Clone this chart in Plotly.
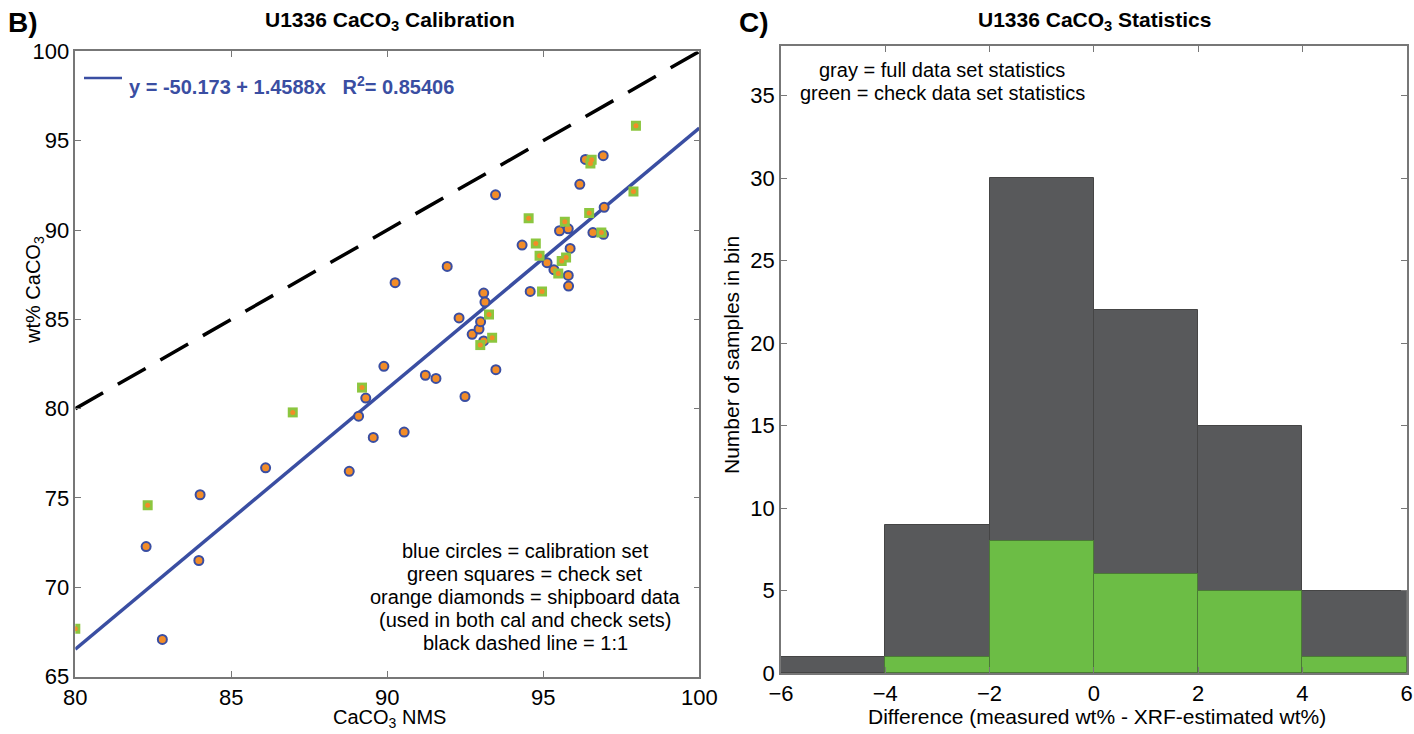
import plotly.graph_objects as go

# ---------------- data ----------------
# calibration set (blue circles)
cal_x = [82.27, 82.79, 84.00, 83.96, 86.10, 88.78, 89.08, 89.31, 89.55, 89.89,
         90.25, 90.54, 91.22, 91.56, 91.92, 92.30, 92.49, 92.72, 92.94, 92.99,
         93.09, 93.13, 93.09, 93.47, 93.48, 94.32, 94.58, 95.12, 95.34, 95.52,
         95.80, 95.86, 95.80, 95.81, 96.17, 96.35, 96.92, 96.95, 96.59, 96.93]
cal_y = [72.28, 67.08, 75.18, 71.50, 76.69, 76.49, 79.58, 80.59, 78.39, 82.37,
         87.05, 78.69, 81.87, 81.69, 87.96, 85.08, 80.68, 84.16, 84.46, 84.87,
         86.47, 85.97, 83.79, 91.97, 82.18, 89.16, 86.56, 88.17, 87.78, 89.96,
         90.07, 88.97, 87.46, 86.86, 92.56, 93.95, 94.16, 91.27, 89.86, 89.76]
# check set (green squares)
chk_x = [80.00, 82.32, 86.97, 89.19, 92.98, 93.26, 93.36, 94.53, 94.76, 94.88,
         94.96, 95.48, 95.59, 95.73, 95.69, 96.47, 96.55, 96.51, 96.86, 97.89, 97.97]
chk_y = [67.68, 74.59, 79.79, 81.18, 83.56, 85.27, 83.97, 90.66, 89.25, 88.56,
         86.56, 87.56, 88.27, 88.46, 90.46, 90.96, 93.93, 93.73, 89.86, 92.16, 95.84]
# regression
intercept = -50.173
slope = 1.4588
r2 = 0.85406
fit_x = [80, 100]
one_to_one = [80, 100]

# histogram
bin_centers = [-5, -3, -1, 1, 3, 5]
full_counts = [1, 9, 30, 22, 15, 5]
check_counts = [0, 1, 8, 6, 5, 1]

notes_left = ["blue circles = calibration set", "green squares = check set",
              "orange diamonds = shipboard data", "(used in both cal and check sets)",
              "black dashed line = 1:1"]
notes_right = ["gray = full data set statistics", "green = check data set statistics"]

# ---------------- styles ----------------
FONT = "Liberation Sans, Arial, sans-serif"
BLUE = "#3a4ea2"
ORANGE = "#f28c28"
GREEN = "#8cc63f"
GRAY = "#58595b"
HGREEN = "#6cbd45"
AX = "#777777"

fig = go.Figure()

fig.add_trace(go.Scatter(x=one_to_one, y=one_to_one, mode="lines",
                         line=dict(color="black", width=3.5, dash="32px,17px"),
                         xaxis="x", yaxis="y", showlegend=False, hoverinfo="skip"))
fit_y = [intercept + slope * v for v in fit_x]
fig.add_trace(go.Scatter(x=fit_x, y=fit_y, mode="lines",
                         line=dict(color=BLUE, width=3.5),
                         xaxis="x", yaxis="y", showlegend=False, hoverinfo="skip"))
fig.add_trace(go.Scatter(x=cal_x, y=cal_y, mode="markers",
                         marker=dict(symbol="circle", size=9, color=ORANGE,
                                     line=dict(color=BLUE, width=2)),
                         xaxis="x", yaxis="y", showlegend=False))
fig.add_trace(go.Scatter(x=chk_x, y=chk_y, mode="markers",
                         marker=dict(symbol="square", size=10, color=GREEN,
                                     line=dict(width=0)),
                         xaxis="x", yaxis="y", showlegend=False))
fig.add_trace(go.Scatter(x=chk_x, y=chk_y, mode="markers",
                         marker=dict(symbol="circle", size=5, color=ORANGE,
                                     line=dict(width=0)),
                         xaxis="x", yaxis="y", showlegend=False))

fig.add_trace(go.Bar(x=bin_centers, y=full_counts, width=2,
                     marker=dict(color=GRAY, line=dict(color="#454545", width=1)),
                     xaxis="x2", yaxis="y2", showlegend=False))
fig.add_trace(go.Bar(x=bin_centers, y=check_counts, width=2,
                     marker=dict(color=HGREEN,
                                 line=dict(color="#4a7a35",
                                           width=[0 if c == 0 else 1 for c in check_counts])),
                     xaxis="x2", yaxis="y2", showlegend=False))

W, H = 1414, 734
def px(x):
    return x / W
def py(y):
    return 1 - y / H

axis_common = dict(showgrid=False, zeroline=False, showline=True, linecolor=AX,
                   linewidth=1.5, mirror="ticks", ticks="inside", ticklen=6,
                   tickcolor=AX, automargin=False,
                   tickfont=dict(family=FONT, size=22, color="black"))

fig.update_layout(
    width=W, height=H,
    margin=dict(l=0, r=0, t=0, b=0, autoexpand=False),
    paper_bgcolor="white", plot_bgcolor="white",
    barmode="overlay", bargap=0,
    font=dict(family=FONT, color="black"),
    xaxis=dict(domain=[px(75.3), px(699.3)], range=[80, 100],
               tickvals=[80, 85, 90, 95, 100], anchor="y", **axis_common),
    yaxis=dict(domain=[py(676.6), py(51.4)], range=[65, 100],
               tickvals=[65, 70, 75, 80, 85, 90, 95, 100], anchor="x", **axis_common),
    xaxis2=dict(domain=[px(781), px(1406.7)], range=[-6, 6],
                tickvals=[-6, -4, -2, 0, 2, 4, 6], anchor="y2", **axis_common),
    yaxis2=dict(domain=[py(673), py(46)], range=[0, 38],
                tickvals=[0, 5, 10, 15, 20, 25, 30, 35], anchor="x2", **axis_common),
)

ann = []
def add_text(x, y, text, size=21, bold=False, color="black", xanchor="center",
             yanchor="middle", angle=0):
    if bold:
        text = "<b>" + text + "</b>"
    ann.append(dict(x=px(x), y=py(y), xref="paper", yref="paper", text=text,
                    showarrow=False, xanchor=xanchor, yanchor=yanchor,
                    textangle=angle,
                    font=dict(family=FONT, size=size, color=color)))

add_text(6, 23, "B)", size=28, bold=True, xanchor="left")
add_text(737, 23, "C)", size=28, bold=True, xanchor="left")
add_text(390, 21, "U1336 CaCO<sub>3</sub> Calibration", size=21, bold=True)
add_text(1094, 21, "U1336 CaCO<sub>3</sub> Statistics", size=21, bold=True)

add_text(35, 290, "wt% CaCO<sub>3</sub>", size=20, angle=-90)
add_text(390, 718, "CaCO<sub>3</sub> NMS", size=20)
add_text(731, 355, "Number of samples in bin", size=21, angle=-90)
add_text(1097, 716, "Difference (measured wt% - XRF-estimated wt%)", size=21)

add_text(127, 86, "y = -50.173 + 1.4588x   R<sup>2</sup>= 0.85406", size=20,
         bold=True, color=BLUE, xanchor="left")

for i, line in enumerate(notes_left):
    add_text(525, 551 + 23 * i, line, size=20)
for i, line in enumerate(notes_right):
    add_text(942, 70 + 23 * i, line, size=20)

fig.update_layout(annotations=ann)
fig.add_shape(type="line", xref="paper", yref="paper",
              x0=px(84), x1=px(122), y0=py(78), y1=py(78),
              line=dict(color=BLUE, width=2.5))

fig.write_html("out.html")
